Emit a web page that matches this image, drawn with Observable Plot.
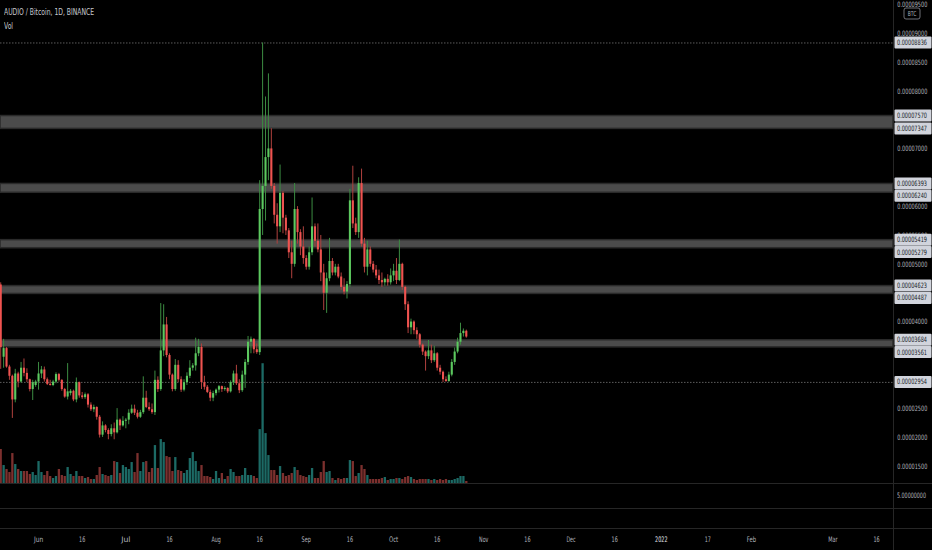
<!DOCTYPE html>
<html><head><meta charset="utf-8">
<script src="https://cdn.jsdelivr.net/npm/d3@7"></script>
<script src="https://cdn.jsdelivr.net/npm/@observablehq/plot@0.6"></script>
<style>
html,body{margin:0;padding:0;background:#000;}
#wrap{position:relative;width:932px;height:550px;overflow:hidden;background:#000;font-family:"Liberation Sans Narrow","DejaVu Sans Condensed","Roboto",sans-serif;}
#wrap svg{position:absolute;left:0;}
.hl{position:absolute;left:0;width:932px;height:1px;background:#262626;}
.txt{position:absolute;white-space:nowrap;transform-origin:0 0;}
</style></head><body>
<div id="wrap"></div>
<script>
// ---------- DATA (prices in satoshi, 1e-8 BTC) ----------
const startDate = "2021-05-19";
const opens = [4640,3390,3540,3220,3060,2650,3100,2960,3200,3110,3000,2830,2900,2960,3100,3170,3000,2920,2900,2960,3090,2990,2830,2700,2760,2800,2650,2950,2720,2690,2740,2560,2480,2520,2350,2040,2200,2120,2050,2150,2080,2300,2200,2280,2300,2420,2490,2420,2350,2430,2680,2520,2480,2430,2990,2830,3500,3950,3420,3080,2830,3250,3000,2820,2950,3060,3200,3240,3450,3560,2950,2870,2780,2680,2760,2820,2880,2830,2850,2790,2950,3100,2930,2810,3080,3300,3650,3700,3520,3470,5950,6350,6850,7000,6350,5850,5650,6230,5800,5580,5200,5000,5950,5550,5300,5100,4950,5200,5650,5400,5250,4850,4500,4750,5050,4850,4950,4780,4600,4520,4650,6100,5700,5550,6400,5350,4950,5250,5000,4900,4800,4720,4680,4740,4680,4800,4880,4720,5000,4600,4300,3900,4000,3850,3780,3600,3480,3400,3500,3330,3450,3200,3130,3000,2970,3080,3300,3480,3650,3800,3840];
const highs = [4680,3700,3560,3250,3080,3180,3130,3300,3360,3190,3010,2990,2990,3300,3230,3220,3030,2990,2990,3120,3110,3000,2850,3280,2830,2820,3030,2960,2780,2770,2760,2600,2560,2530,2380,2270,2220,2150,2220,2250,2500,2320,2360,2330,2480,2560,2560,2470,2470,3050,2800,2600,2580,3150,3050,4320,4300,4080,3450,3100,3350,3330,3050,3000,3120,3330,3280,3720,3700,3620,3060,2900,2820,2800,2840,2900,2890,2880,2860,2980,3150,3250,3000,3150,3350,3750,3740,3710,3620,6450,8836,7900,8300,7350,6400,6050,6720,6260,5850,5620,5400,6400,6000,5600,5650,5150,5300,6150,5700,5700,5500,5000,4850,5450,5100,5000,5000,4850,4750,4700,6300,6700,5800,6500,6650,5450,5400,5300,5050,4980,4900,4850,4760,4820,4920,5000,5100,5420,5020,4620,4350,4050,4020,3900,3800,3620,3500,3680,3600,3580,3470,3250,3150,3050,3130,3350,3550,3720,3980,3880,3860];
const lows = [3180,3200,3200,2990,2330,2600,2860,2940,3050,2950,2790,2640,2870,2820,3020,2960,2900,2890,2880,2930,2960,2800,2680,2650,2720,2620,2600,2680,2660,2660,2510,2450,2430,2300,1990,2000,2080,1960,2010,1960,2060,2120,2180,2150,2220,2400,2380,2320,2330,2400,2500,2450,2400,2380,2780,2800,3400,3380,3000,2790,2800,2950,2780,2790,2900,3020,3150,3150,3400,2830,2820,2760,2620,2620,2720,2770,2780,2800,2760,2770,2900,2900,2760,2780,2850,3250,3450,3450,3440,3420,5500,5750,6450,6300,5700,5350,5550,5530,5500,5100,4750,4950,5350,5150,5000,4900,4900,5150,5300,5200,4700,4200,4150,4700,4800,4800,4750,4550,4470,4400,4600,5620,5500,5450,5300,4850,4800,4950,4850,4750,4650,4600,4620,4620,4640,4700,4650,4700,4550,4200,3800,3780,3780,3700,3550,3420,3150,3350,3280,3300,3150,3080,2950,2954,2954,3050,3250,3450,3600,3740,3720];
const closes = [3560,3540,3220,3060,2650,3100,2960,3200,3110,3000,2830,2950,2960,3100,3170,3000,2920,2900,2960,3090,2990,2830,2700,2790,2800,2650,2950,2720,2690,2740,2560,2480,2520,2350,2040,2200,2120,2050,2150,2080,2300,2200,2280,2300,2420,2490,2420,2350,2430,2680,2520,2480,2430,2990,2830,3500,3950,3420,3080,2830,3250,3000,2820,2950,3060,3200,3240,3450,3560,2950,2870,2780,2680,2760,2820,2880,2830,2850,2790,2950,3100,2930,2810,3080,3300,3650,3700,3520,3470,5950,6350,6850,7000,6350,5850,5650,6230,5800,5580,5200,5000,5950,5550,5300,5100,4950,5200,5650,5400,5250,4850,4500,4750,5050,4850,4950,4780,4600,4520,4650,6100,5700,5550,6400,5350,4950,5250,5000,4900,4800,4720,4680,4740,4680,4800,4880,4720,5000,4600,4300,3900,4000,3850,3780,3600,3480,3400,3500,3330,3450,3200,3130,3000,2970,3080,3300,3480,3650,3800,3840,3740];
const volumes = [34,18,14,11,30,19,14,12,12,12,9,11,8,22,11,8,12,7,5,7,14,8,7,16,9,7,12,7,7,5,6,4,4,8,16,9,8,7,8,22,21,10,18,16,14,21,11,30,12,21,22,11,15,38,15,44,41,27,26,12,26,13,12,10,13,25,31,22,12,18,7,7,6,4,12,5,10,4,7,14,11,7,7,8,15,8,8,7,5,54,120,50,28,13,13,8,17,10,7,8,10,16,13,8,7,6,8,15,5,5,11,22,11,12,5,3,5,4,5,5,23,22,7,10,18,14,8,4,4,4,4,5,6,3,4,4,5,5,4,6,7,6,4,3,4,4,4,4,3,4,3,4,3,4,3,3,4,5,7,7,2];
const zoneTops = [7570,6393,5419,4623,3684];
const zoneBottoms = [7347,6240,5279,4487,3561];
const levels = [8836,2954];
const priceTicks = [9500,9000,8500,8000,7000,6000,5500,5000,4000,2500,2000,1500];
const timeTickDates = ["2021-06-01","2021-06-16","2021-07-01","2021-07-16","2021-08-01","2021-08-16","2021-09-01","2021-09-16","2021-10-01","2021-10-16","2021-11-01","2021-11-16","2021-12-01","2021-12-16","2022-01-01","2022-01-17","2022-02-01","2022-03-01","2022-03-16"];
const timeTickLabels = ["Jun","16","Jul","16","Aug","16","Sep","16","Oct","16","Nov","16","Dec","16","2022","17","Feb","Mar","16"];
const titleText = "AUDIO / Bitcoin, 1D, BINANCE";
const volLabel = "Vol";
const paneLabel = "5.00000000";
const currencyLabel = "BTC";

// ---------- BUILD ----------
const DAY = 86400000;
const t0 = Date.parse(startDate);
const candles = closes.map((c,i)=>({date:new Date(t0+i*DAY),open:opens[i],high:highs[i],low:lows[i],close:c,vol:volumes[i],up:c>=opens[i]}));
const zones = zoneTops.map((t,i)=>({hi:t,lo:zoneBottoms[i]}));
const xDomain = [new Date(t0-0.07*DAY), new Date(t0+306.8*DAY)];
const W = 932, MAIN_H = 483, RIGHT = 39;
const fmt = v => (v*1e-8).toFixed(8);
const FONT = '"Liberation Sans Narrow","DejaVu Sans Condensed",sans-serif';
const UP="#5cc85f", DOWN="#ef5350", UPW="#3c8c42", DOWNW="#b0413e";
const VUP="#1c6a65", VDOWN="#7c302e";
const LABEL_LEN = 30, LABEL_X = 897;

const wrap = document.getElementById("wrap");

// volume overlay (behind)
const vmax = d3.max(volumes);
const volPlot = Plot.plot({
  width: W, height: MAIN_H, marginLeft:0, marginRight:RIGHT, marginTop:0, marginBottom:0,
  style:{background:"transparent"},
  x:{type:"utc", domain:xDomain, axis:null},
  y:{domain:[0, vmax/0.248], axis:null},
  color:{type:"identity"},
  marks:[
    Plot.ruleX(candles,{x:"date", y1:0, y2:"vol", stroke:d=>d.up?VUP:VDOWN, strokeWidth:2.3})
  ]
});
volPlot.style.top = "0px";
wrap.appendChild(volPlot);

// main price plot
const main = Plot.plot({
  width: W, height: MAIN_H, marginLeft:0, marginRight:RIGHT, marginTop:0, marginBottom:0,
  style:{background:"transparent", color:"#b2b5be", fontFamily:FONT, fontSize:"7.4px"},
  x:{type:"utc", domain:xDomain, axis:null},
  y:{domain:[1202, 9572], axis:null},
  color:{type:"identity"},
  marks:[
    Plot.rect(zones,{x1:()=>xDomain[0], x2:()=>xDomain[1], y1:"lo", y2:"hi", fill:"#4b4b4b", stroke:"#2a2a2a", strokeWidth:1.5}),
    Plot.ruleY(levels,{x1:()=>xDomain[0], x2:()=>xDomain[1], stroke:"#5c5c5c", strokeWidth:1, strokeDasharray:"1.5,1.5"}),
    Plot.ruleX(candles,{x:"date", y1:"low", y2:"high", stroke:d=>d.up?UPW:DOWNW, strokeWidth:1}),
    Plot.ruleX(candles,{x:"date", y1:"open", y2:"close", stroke:d=>d.up?UP:DOWN, strokeWidth:2.1}),
    Plot.axisY(priceTicks,{anchor:"right", tickSize:0, tickPadding:4, tickFormat:fmt, fill:"#b2b5be"})
  ]
});
main.style.top = "0px";
wrap.appendChild(main);
const svg = d3.select(main);

// horizontal compression of the narrow price-axis font, around the label x
const axisTexts = svg.selectAll("text").nodes();
let natural = 40;
if (axisTexts.length) { try { natural = axisTexts[0].getComputedTextLength() || 40; } catch(e){} }
const sx = Math.min(1, LABEL_LEN / natural);
const squeeze = `matrix(${sx},0,0,1,${LABEL_X*(1-sx)},0)`;
const axisWrap = svg.append("g").attr("transform", squeeze);
svg.selectAll("g[aria-label='y-axis tick label']").each(function(){ axisWrap.node().appendChild(this); });

// price label boxes positioned with Plot's y scale
const ys = main.scale("y");
const boxes = [];
levels.forEach(v=>boxes.push({v, y:ys.apply(v)}));
zones.forEach(z=>{
  let yu = ys.apply(z.hi), yl = ys.apply(z.lo);
  if (yl - yu < 12.3) yl = yu + 12.3;
  boxes.push({v:z.hi, y:yu}); boxes.push({v:z.lo, y:yl});
});
const gRects = svg.append("g");
const gTexts = svg.append("g").attr("transform", squeeze).attr("font-family",FONT).attr("font-size","7.4px").attr("text-anchor","start");
boxes.forEach(b=>{
  gRects.append("rect").attr("x",894.5).attr("y",b.y-6).attr("width",37).attr("height",12).attr("fill","#d1d4dc").attr("rx",1);
  gTexts.append("text").attr("x",LABEL_X).attr("y",b.y).attr("dy","0.35em").attr("fill","#131722").text(fmt(b.v));
});
// currency box
const cb = svg.append("g").attr("font-family",FONT).attr("font-size","6.6px");
cb.append("rect").attr("x",904).attr("y",8).attr("width",16).attr("height",11).attr("fill","#000").attr("stroke","#8a8d96").attr("stroke-width",0.8).attr("rx",2);
cb.append("g").attr("transform",`matrix(${sx},0,0,1,${912*(1-sx)},0)`)
  .append("text").attr("x",912).attr("y",13.5).attr("dy","0.35em").attr("text-anchor","middle").attr("fill","#b2b5be").text(currencyLabel);

// time axis
const timeTicks = timeTickDates.map((d,i)=>({date:new Date(Date.parse(d)), label:timeTickLabels[i], year: /^\d{4}$/.test(timeTickLabels[i])}));
const timePlot = Plot.plot({
  width: W, height: 22, marginLeft:0, marginRight:RIGHT, marginTop:0, marginBottom:0,
  style:{background:"transparent", fontFamily:FONT, fontSize:"7.6px"},
  x:{type:"utc", domain:xDomain, axis:null},
  color:{type:"identity"},
  marks:[
    Plot.text(timeTicks,{x:"date", text:"label", frameAnchor:"middle", fill:d=>d.year?"#e6e8ee":"#b2b5be", fontWeight:d=>d.year?"bold":"normal"})
  ]
});
timePlot.style.top = "528px";
wrap.appendChild(timePlot);
d3.select(timePlot).selectAll("text").each(function(){
  const t=d3.select(this); const n=t.text().length; t.attr("textLength", n*3.1).attr("lengthAdjust","spacingAndGlyphs");
});

// pane separators and decorations
[483,508,528].forEach(y=>{ const d=document.createElement("div"); d.className="hl"; d.style.top=y+"px"; wrap.appendChild(d); });
const vl = document.createElement("div");
vl.style.cssText="position:absolute;left:893px;top:0;width:1px;height:550px;background:#262626;";
wrap.appendChild(vl);
function addText(t,l,top,size,color,s){const d=document.createElement("div");d.className="txt";d.textContent=t;d.style.left=l+"px";d.style.top=top+"px";d.style.fontSize=size+"px";d.style.color=color;d.style.transform="scaleX("+s+")";wrap.appendChild(d);return d;}
addText(titleText,4,6,9.4,"#c9cbd1",0.72);
addText(volLabel,4,20,9.4,"#c9cbd1",0.72);
addText(paneLabel,897,490.5,7.4,"#b2b5be",0.72);
</script>
</body></html>
